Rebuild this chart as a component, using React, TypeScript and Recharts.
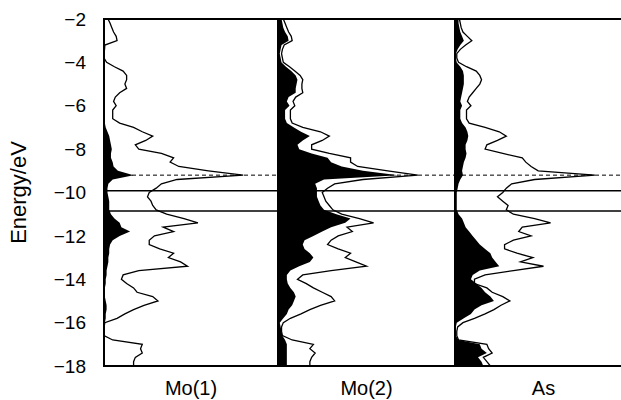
import React from 'react';
import { ComposedChart, Area, Line, XAxis, YAxis, ReferenceLine, ReferenceArea } from 'recharts';

// energy grid (eV), top of the plot to the bottom
const ENERGIES = [
  -2.0, -2.2, -2.4, -2.6, -2.8, -3.0, -3.2, -3.4, -3.6, -3.8,
  -4.0, -4.2, -4.4, -4.6, -4.8, -5.0, -5.2, -5.4, -5.6, -5.8,
  -6.0, -6.2, -6.4, -6.6, -6.8, -7.0, -7.2, -7.4, -7.6, -7.8,
  -8.0, -8.2, -8.4, -8.6, -8.8, -9.0, -9.2, -9.4, -9.6, -9.8,
  -10.0, -10.2, -10.4, -10.6, -10.8, -11.0, -11.2, -11.4, -11.6, -11.8,
  -12.0, -12.2, -12.4, -12.6, -12.8, -13.0, -13.2, -13.4, -13.6, -13.8,
  -14.0, -14.2, -14.4, -14.6, -14.8, -15.0, -15.2, -15.4, -15.6, -15.8,
  -16.0, -16.2, -16.4, -16.6, -16.8, -17.0, -17.2, -17.4, -17.6, -17.8,
  -18.0,
];
const E_TICKS = [-2, -4, -6, -8, -10, -12, -14, -16, -18];

// total DOS (outline) and projected DOS (black fill) per panel
const MO1_TOTAL = [
  2.3, 3.5, 4.5, 5.5, 7, 7.5, 0.5, 0.3, 0, 0,
  1.5, 6, 11, 13, 13, 12, 13, 9, 6.5, 5.5,
  7, 5, 5, 5, 9, 17, 22, 28, 24, 18,
  20, 33, 40, 38, 43, 60, 80, 42, 33, 30,
  26, 25, 27, 28, 30, 36, 46, 54, 34, 40,
  29, 26, 26, 32, 40, 37, 44, 48, 20, 11,
  10, 13, 17, 19, 28, 31, 23, 17, 12, 7.5,
  0.5, 0, 0, 0, 5, 22, 21, 22, 18, 17,
  17,
];
const MO1_PART = [
  0, 0, 0, 0, 0, 0, 0, 0, 0, 0,
  0, 0, 0, 0, 0, 0, 0, 0, 0, 0,
  0, 0, 0, 0, 0.5, 1, 2, 3, 3.5, 4,
  4.5, 4, 4, 5, 5.5, 8, 17, 5, 2.5, 2,
  2, 2.5, 3, 3, 3, 4, 6, 9, 10, 15,
  9, 5, 3.5, 3, 3, 2.5, 2.5, 2, 1.5, 1.5,
  1, 1, 0.5, 0.5, 0.5, 1, 1.5, 1.5, 1, 1,
  0.5, 0.3, 0.3, 0.3, 0.3, 0.3, 0.3, 0.3, 0.3, 0.3,
  0.3,
];
const MO2_TOTAL = [
  3, 4, 5, 6, 7.5, 8, 3.5, 2.5, 2, 2.5,
  3, 6.5, 9.5, 12.5, 14, 13.5, 13.5, 14, 10, 8.5,
  9.5, 7, 7, 7, 8, 14, 24, 29, 25, 19,
  19, 29, 41, 41, 45, 62, 79, 48, 32, 28,
  25, 26, 27, 29, 31, 36, 46, 54, 39, 42,
  34, 30, 28, 34, 41, 38, 44, 50, 30, 14,
  11, 16, 20, 25, 30, 32, 24, 18, 13, 7,
  3, 2, 2, 2.5, 8, 20, 18, 21, 19, 18,
  18,
];
const MO2_PART = [
  2, 2.5, 3, 4, 5.5, 6, 2, 1.5, 1, 1.5,
  2, 4.5, 7.5, 10, 11, 10.5, 10, 10, 6, 5,
  6.5, 4, 4, 4, 5, 9, 13, 18, 14, 11,
  12, 19, 28, 30, 36, 48, 68, 26, 21, 22,
  22, 22, 23, 24, 26, 33, 41, 38, 30, 25,
  20, 15, 14, 15, 18, 20, 18, 12, 7, 5,
  5, 5.5, 7, 9, 10, 9, 8, 6, 5, 3,
  1, 1.5, 2, 2.5, 4, 5, 5, 5, 5, 5,
  5,
];
const AS_TOTAL = [
  2.5, 3, 3.5, 4.5, 7, 9.5, 6, 3, 1, 1,
  2, 6.5, 12, 14, 15, 14, 12, 10, 8, 7,
  9, 6.5, 6.5, 6.5, 8, 17, 25, 29, 24, 18,
  17, 27, 38, 40, 43, 47, 79, 45, 32, 29,
  27, 24, 27, 30, 29, 33, 45, 54, 38, 36,
  43, 33, 28, 28, 35, 44, 37, 50, 33, 17,
  11, 11, 18, 21, 27, 31, 26, 22, 17, 11,
  4.5, 1.5, 1, 1, 2, 18, 19, 21, 16, 18,
  20,
];
const AS_PART = [
  2, 2, 2.5, 3, 4, 5, 3, 1.5, 0.5, 0.5,
  1, 3, 4.5, 5, 5, 5, 4.5, 4, 3.5, 3,
  4, 3, 3, 3, 4, 6, 7, 7.5, 7, 6,
  6, 6.5, 6, 5, 4.5, 4, 4.5, 3, 2, 1.5,
  1, 1, 1, 1, 1, 2, 4, 5, 6, 8,
  10, 12, 14, 17, 20, 21, 23, 25, 14, 10,
  9, 12, 15, 17, 20, 22, 15, 11, 9, 5,
  1, 0.5, 0.5, 0.5, 2, 14, 15, 18, 13, 15,
  16,
];

const FERMI = -9.2;
const GAP_TOP = -9.92;
const GAP_BOTTOM = -10.85;

const FONT = 'Arial, "Liberation Sans", Helvetica, sans-serif';

const minus = (v: number) => String(v).replace('-', '\u2212');

type PanelProps = {
  name: string;
  total: number[];
  part: number[];
  left: number;
  width: number;
  showAxis?: boolean;
};

const Panel: React.FC<PanelProps> = ({ name, total, part, left, width, showAxis }) => {
  const data = ENERGIES.map((e, i) => ({ e, total: total[i], part: part[i] }));
  return (
    <div style={{ position: 'absolute', left, top: 0 }}>
      <ComposedChart
        layout="vertical"
        width={width}
        height={400}
        data={data}
        margin={{ top: 19, right: 2, bottom: 0, left: showAxis ? 0 : 2 }}
      >
        <XAxis
          type="number"
          domain={[0, 100]}
          height={34}
          tick={false}
          tickLine={false}
          axisLine={false}
          label={{ value: name, position: 'insideBottom', offset: 5, fill: '#000', fontSize: 20, fontFamily: FONT }}
        />
        <YAxis
          type="number"
          dataKey="e"
          domain={[-18, -2]}
          ticks={E_TICKS}
          reversed
          hide={!showAxis}
          width={104}
          tickLine={false}
          axisLine={false}
          tickSize={0}
          tickMargin={18}
          tickFormatter={minus}
          tick={{ fill: '#000', fontSize: 19, fontFamily: FONT }}
          label={{ value: 'Energy/eV', angle: -90, position: 'insideLeft', offset: 18, fill: '#000', fontSize: 22, fontFamily: FONT, style: { textAnchor: 'middle' } }}
        />
        <ReferenceLine y={FERMI} stroke="#000" strokeWidth={1} strokeDasharray="4 3" />
        <Area dataKey="part" type="linear" fill="#000" fillOpacity={1} stroke="none" isAnimationActive={false} />
        <Line dataKey="total" type="linear" stroke="#000" strokeWidth={1.3} dot={false} isAnimationActive={false} />
        <ReferenceLine y={GAP_TOP} stroke="#000" strokeWidth={1.6} />
        <ReferenceLine y={GAP_BOTTOM} stroke="#000" strokeWidth={1.6} />
        <ReferenceArea x1={0} x2={100} y1={-18} y2={-2} fill="none" stroke="#000" strokeWidth={2} fillOpacity={0} />
      </ComposedChart>
    </div>
  );
};

export default function App() {
  return (
    <div style={{ position: 'absolute', left: 0, top: 0, width: 621, height: 400, overflow: 'hidden', background: '#fff', fontFamily: FONT }}>
      <Panel name="Mo(1)" total={MO1_TOTAL} part={MO1_PART} left={0} width={280} showAxis />
      <Panel name="Mo(2)" total={MO2_TOTAL} part={MO2_PART} left={276} width={181} />
      <Panel name="As" total={AS_TOTAL} part={AS_PART} left={453} width={181} />
    </div>
  );
}
